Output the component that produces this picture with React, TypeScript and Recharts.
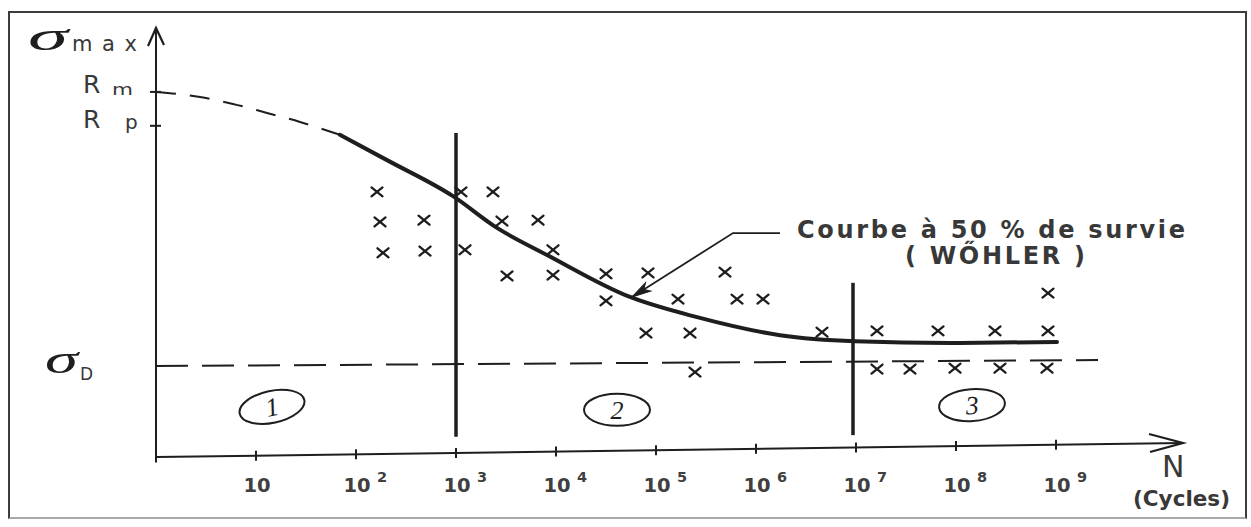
import React from "react";
import {
  ComposedChart,
  Line,
  Scatter,
  XAxis,
  YAxis,
  ReferenceLine,
  ReferenceDot,
} from "recharts";

// x = log10(N cycles), y = stress on the drawing's own 0..100 scale
const decades = [1, 2, 3, 4, 5, 6, 7, 8, 9];
const decadeExp = ["", "2", "3", "4", "5", "6", "7", "8", "9"];

const extrapLogN = [0, 0.44, 0.77, 1.11, 1.44, 1.84];
const extrapStress = [85.1, 83.9, 82.3, 80.2, 78.1, 75.1];

const wohlerLogN = [1.84, 2.31, 2.97, 3.41, 3.91, 4.74, 5.41, 6.24, 6.99, 7.94, 9.01];
const wohlerStress = [75.1, 69.2, 60.8, 53.4, 47.1, 37.3, 32.6, 28.4, 27.0, 26.6, 26.8];

const testLogN = [
  2.21, 2.24, 2.27, 2.68, 2.69, 3.05, 3.09, 3.37, 3.46, 3.82, 3.97, 3.51,
  3.97, 4.5, 4.5, 4.92, 4.9, 5.22, 5.34, 5.39, 5.69, 5.81, 6.07, 6.66,
  7.21, 7.82, 8.39, 8.92, 8.92, 7.21, 7.54, 7.99, 8.44, 8.91,
];
const testStress = [
  61.8, 54.8, 47.6, 55.2, 48.0, 61.8, 48.3, 61.8, 55.0, 55.2, 48.3, 42.2,
  42.4, 42.7, 36.4, 42.9, 28.9, 36.8, 28.9, 19.8, 43.1, 36.8, 36.8, 29.1,
  29.4, 29.4, 29.4, 29.4, 38.2, 20.5, 20.5, 20.7, 20.7, 20.7,
];

const Rm = 85.1;
const Rp = 77.2;
const sigmaDLogN = [0, 9.42];
const sigmaDStress = [21.2, 22.6];

const boundaryLogN = [3.0, 6.97];
const boundaryLow = [4.7, 5.1];
const boundaryHigh = [75.5, 40.6];

const zoneLogN = [1.16, 4.61, 8.16];
const zoneStress = [11.7, 11.0, 12.1];
const zoneLabels = ["1", "2", "3"];

const leaderLogN = [6.24, 5.77, 4.76];
const leaderStress = [52.2, 52.2, 37.3];

const yTickValues = [sigmaDStress[0], Rp, Rm];
const xMax = 10.27;
const xAxisEndStress = 3.26;

const extrapData = extrapLogN.map((x, i) => ({ x, y: extrapStress[i] }));
const wohlerData = wohlerLogN.map((x, i) => ({ x, y: wohlerStress[i] }));
const testData = testLogN.map((x, i) => ({ x, y: testStress[i] }));
const sigmaDData = sigmaDLogN.map((x, i) => ({ x, y: sigmaDStress[i] }));
const leaderData = leaderLogN.map((x, i) => ({ x, y: leaderStress[i] }));
const zoneData = zoneLogN.map((x, i) => ({ x, y: zoneStress[i], label: zoneLabels[i] }));

const INK = "#1e1e1e";
const TEXT = "#383838";
const SANS = "'DejaVu Sans', sans-serif";
const SERIF = "'Liberation Serif', serif";
const PLOT_LEFT = 156;
const PLOT_W = 1027;
const AXIS_RISE = 14;
const ZONE_TILT = [-12, 0, -4];

function XTick(props: any) {
  const { x, payload } = props;
  const y = 457;
  const i = decades.indexOf(payload.value);
  const lift = (AXIS_RISE * (x - PLOT_LEFT)) / PLOT_W;
  return (
    <g>
      <line x1={x} x2={x} y1={y - lift - 5} y2={y - lift + 5} stroke={INK} strokeWidth={2} />
      <text x={x + 1} y={y + 35} textAnchor="middle" fontFamily={SANS} fontWeight="bold" fontSize={19.5} fill="#404040">
        10
      </text>
      {decadeExp[i] ? (
        <text x={x + 21} y={y + 25} fontFamily={SANS} fontWeight="bold" fontSize={14.5} fill="#404040">
          {decadeExp[i]}
        </text>
      ) : null}
    </g>
  );
}

function YTick(props: any) {
  const { y, payload } = props;
  const x = PLOT_LEFT;
  const i = yTickValues.indexOf(payload.value);
  if (i === 0) {
    return (
      <g>
        <text x={x - 111} y={y + 7} fontFamily={SERIF} fontStyle="italic" fontSize={40} textLength={33} lengthAdjust="spacingAndGlyphs" fill={INK}>
          σ
        </text>
        <text x={x - 76} y={y + 14} fontFamily={SANS} fontSize={17} fill={TEXT}>
          D
        </text>
      </g>
    );
  }
  const sub = i === 2 ? "m" : "p";
  return (
    <g>
      <line x1={x - 6} x2={x + 5} y1={y} y2={y} stroke={INK} strokeWidth={2} />
      <text x={x - 73} y={y + (i === 2 ? 1 : 2)} fontFamily={SANS} fontSize={25} fill={TEXT}>
        R
      </text>
      {i === 2 ? (
        <text x={x - 44} y={y + 3} fontFamily={SANS} fontSize={15} textLength={21} lengthAdjust="spacingAndGlyphs" fill={TEXT}>
          {sub}
        </text>
      ) : (
        <text x={x - 31} y={y + 3} fontFamily={SANS} fontSize={20} fill={TEXT}>
          {sub}
        </text>
      )}
    </g>
  );
}

function SigmaMaxLabel() {
  const x = PLOT_LEFT;
  const y = 28;
  return (
    <g>
      <text x={x - 128} y={y + 22} fontFamily={SERIF} fontStyle="italic" fontSize={40} textLength={40} lengthAdjust="spacingAndGlyphs" fill={INK}>
        σ
      </text>
      <text x={x - 84} y={y + 23} fontFamily={SANS} fontSize={21} textLength={65} lengthAdjust="spacing" fill={TEXT}>
        max
      </text>
    </g>
  );
}

function CyclesLabel() {
  const right = PLOT_LEFT + PLOT_W;
  const y = 457;
  return (
    <g>
      <text x={right - 21} y={y + 20} fontFamily={SANS} fontSize={30} fill={TEXT}>
        N
      </text>
      <text x={right - 50} y={y + 49} fontFamily={SANS} fontWeight="bold" fontSize={21} textLength={97} lengthAdjust="spacingAndGlyphs" fill={TEXT}>
        (Cycles)
      </text>
    </g>
  );
}

function Cross(props: any) {
  const { cx, cy } = props;
  return (
    <g stroke={INK} strokeWidth={2.3} strokeLinecap="round">
      <line x1={cx - 5.5} y1={cy - 4.5} x2={cx + 5.5} y2={cy + 4.5} />
      <line x1={cx + 5.5} y1={cy - 4.5} x2={cx - 5.5} y2={cy + 4.5} />
    </g>
  );
}

function Zone(props: any) {
  const { cx, cy, payload, index } = props;
  const tilt = ZONE_TILT[index] ?? 0;
  return (
    <g transform={`rotate(${tilt} ${cx} ${cy})`}>
      <ellipse cx={cx} cy={cy} rx={33} ry={16} fill="none" stroke={INK} strokeWidth={2} />
      <text x={cx} y={cy + 9} textAnchor="middle" fontFamily={SERIF} fontStyle="italic" fontSize={26} fill={INK}>
        {payload.label}
      </text>
    </g>
  );
}

function CurveNote(props: any) {
  const { cx, cy } = props;
  return (
    <g fontFamily={SANS} fontWeight="bold" fill={TEXT} fontSize={24}>
      <text x={cx} y={cy} textLength={388} lengthAdjust="spacing">
        Courbe à 50 % de survie
      </text>
      <text x={cx + 108} y={cy + 26} textLength={180} lengthAdjust="spacing">
        ( WŐHLER )
      </text>
    </g>
  );
}

function LeaderHead(props: any) {
  const { cx, cy } = props;
  return (
    <path
      d="M0 0 L-19 -5 L-14 0 L-19 5 Z"
      transform={`translate(${cx} ${cy}) rotate(148)`}
      fill={INK}
      stroke={INK}
      strokeWidth={1}
    />
  );
}

function YArrow(props: any) {
  const { cx, cy } = props;
  return (
    <path d={`M${cx - 8} ${cy + 18} L${cx} ${cy} L${cx + 8} ${cy + 17}`} fill="none" stroke={INK} strokeWidth={2.2} />
  );
}

function XArrow(props: any) {
  const { cx, cy } = props;
  return (
    <path d={`M${cx - 34} ${cy - 9} L${cx} ${cy} L${cx - 33} ${cy + 9}`} fill="none" stroke={INK} strokeWidth={2.2} />
  );
}

export default function App() {
  return (
    <div style={{ position: "absolute", left: 0, top: 0, width: 1251, height: 527, background: "#fff" }}>
      <div
        style={{
          position: "absolute",
          left: 8,
          top: 11,
          width: 1235,
          height: 504,
          borderTop: "2.5px solid #3c3c3c",
          borderLeft: "2.5px solid #3c3c3c",
          borderRight: "2.5px solid #3c3c3c",
          borderBottom: "2.5px solid #a8a8a8",
        }}
      />
      <div style={{ position: "absolute", left: 0, top: 0 }}>
        <ComposedChart width={1251} height={527} margin={{ top: 28, right: 68, bottom: 69, left: 155 }}>
          <XAxis
            type="number"
            dataKey="x"
            domain={[0, xMax]}
            ticks={decades}
            interval={0}
            height={1}
            axisLine={false}
            tickLine={false}
            tickSize={0}
            tickMargin={0}
            tick={<XTick />}
            label={<CyclesLabel />}
            allowDataOverflow
          />
          <YAxis
            type="number"
            dataKey="y"
            domain={[0, 100]}
            ticks={yTickValues}
            interval={0}
            width={1}
            axisLine={false}
            tickLine={false}
            tickSize={0}
            tickMargin={0}
            tick={<YTick />}
            label={<SigmaMaxLabel />}
            allowDataOverflow
          />

          <ReferenceLine
            segment={[{ x: 0, y: -1.3 }, { x: 0, y: 100 }]}
            stroke={INK}
            strokeWidth={2}
            ifOverflow="visible"
          />
          <ReferenceLine
            segment={[{ x: 0, y: 0 }, { x: xMax, y: xAxisEndStress }]}
            stroke={INK}
            strokeWidth={2}
            ifOverflow="visible"
          />
          {boundaryLogN.map((bx, i) => (
            <ReferenceLine
              key={bx}
              segment={[{ x: bx, y: boundaryLow[i] }, { x: bx, y: boundaryHigh[i] }]}
              stroke={INK}
              strokeWidth={3.5}
              ifOverflow="visible"
            />
          ))}

          <Line
            data={sigmaDData}
            dataKey="y"
            type="linear"
            stroke={INK}
            strokeWidth={2}
            strokeDasharray="32 14"
            dot={false}
            isAnimationActive={false}
          />
          <Line
            data={extrapData}
            dataKey="y"
            type="monotone"
            stroke={INK}
            strokeWidth={2}
            strokeDasharray="20 14"
            dot={false}
            isAnimationActive={false}
          />
          <Line
            data={wohlerData}
            dataKey="y"
            type="monotone"
            stroke={INK}
            strokeWidth={4}
            strokeLinecap="round"
            dot={false}
            isAnimationActive={false}
          />
          <Line
            data={leaderData}
            dataKey="y"
            type="linear"
            stroke={INK}
            strokeWidth={1.8}
            dot={false}
            isAnimationActive={false}
          />
          <Scatter data={testData} shape={<Cross />} isAnimationActive={false} />
          <Scatter data={zoneData} shape={<Zone />} isAnimationActive={false} />

          <ReferenceDot x={leaderLogN[2]} y={leaderStress[2]} r={0} shape={<LeaderHead />} ifOverflow="visible" />
          <ReferenceDot x={6.41} y={51.0} r={0} shape={<CurveNote />} ifOverflow="visible" />
          <ReferenceDot x={0} y={100} r={0} shape={<YArrow />} ifOverflow="visible" />
          <ReferenceDot x={xMax} y={xAxisEndStress} r={0} shape={<XArrow />} ifOverflow="visible" />
        </ComposedChart>
      </div>
    </div>
  );
}
